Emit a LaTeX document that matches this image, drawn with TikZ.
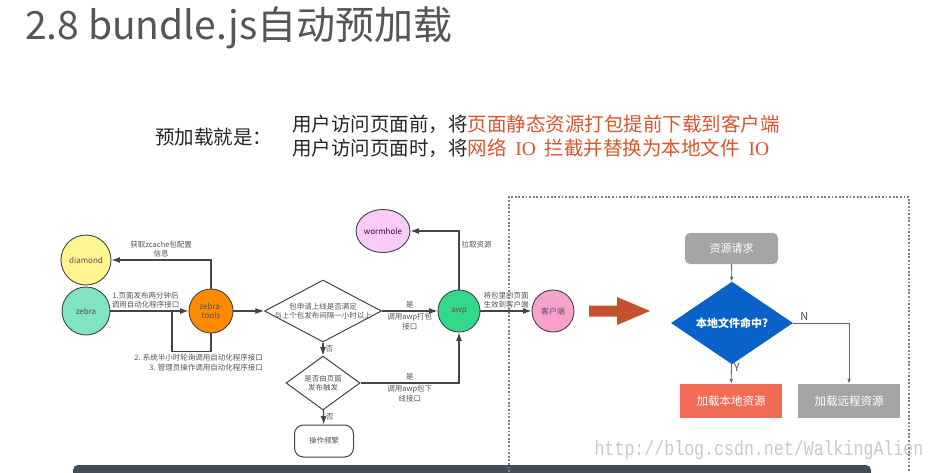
\documentclass[tikz,border=0pt]{standalone}
\usepackage{fontspec}
\setmainfont{Noto Sans CJK SC}
\newfontfamily\serifio{Liberation Serif}
\newfontfamily\wmfont{Liberation Mono}
\usepackage{graphicx}
\usepackage{tikz}
\usetikzlibrary{positioning,shapes.geometric,arrows.meta}
\definecolor{linegray}{HTML}{444444}
\definecolor{txtgray}{HTML}{555555}
\definecolor{dmdyellow}{HTML}{FFF68F}
\definecolor{zebramint}{HTML}{80E3C4}
\definecolor{toolsorange}{HTML}{FF8A00}
\definecolor{wormpink}{HTML}{F8CCF6}
\definecolor{awpgreen}{HTML}{34D88C}
\definecolor{clipink}{HTML}{F7A2CD}
\definecolor{bigred}{HTML}{C4512D}
\definecolor{hitblue}{HTML}{0A62C9}
\definecolor{localred}{HTML}{F26B56}
\definecolor{boxgray}{HTML}{A5A5A5}
\definecolor{hiorange}{HTML}{D9552D}
\definecolor{bardark}{HTML}{454C59}
\definecolor{wmgray}{HTML}{CACACA}
\tikzset{
  ball/.style={draw=linegray, circle, line width=0.9pt, inner sep=0pt, align=center, text=txtgray, font=\fontsize{8}{9}\selectfont},
  dia/.style={draw=linegray, diamond, line width=1pt, inner sep=0pt, align=center, text=txtgray, font=\fontsize{7.5}{9.5}\selectfont},
  lbl/.style={align=center, text=txtgray, font=\fontsize{7.5}{9.5}\selectfont, inner sep=2pt},
  conn/.style={draw=linegray, line width=1.1pt, -{Latex[length=8.5pt,width=6pt]}},
  rconn/.style={draw=black!60, line width=0.8pt, -{Latex[length=5pt,width=3.5pt]}},
  yn/.style={text=black!70, font=\fontsize{11}{13}\selectfont, inner sep=2pt},
  fbox/.style={minimum width=102pt, minimum height=34pt, inner sep=0pt, text=white, font=\fontsize{11.5}{13}\selectfont},
  dotline/.style={draw=black!50, line width=1.8pt, dash pattern=on 1.8pt off 1.8pt}
}
\begin{document}
\begin{tikzpicture}[x=1pt, y=-1pt]
  \useasboundingbox[fill=white] (0,0) rectangle (935,472);

  % heading
  \node[anchor=west, inner sep=0pt, text=txtgray, font=\fontsize{39}{44}\selectfont] (title) at (25,28) {2.8 bundle.js自动预加载};
  \node[anchor=west, inner sep=0pt, text=black!85, font=\fontsize{19.5}{24}\selectfont] (lead) at (155,137) {预加载就是：};
  \node[anchor=west, inner sep=0pt, align=left, text=black!85, font=\fontsize{19.5}{24}\selectfont] (defs) at (292,136)
    {用户访问页面前，将\textcolor{hiorange}{页面静态资源打包提前下载到客户端}\\
     用户访问页面时，将\textcolor{hiorange}{网络\hspace{.45em}{\serifio IO}\hspace{.45em}拦截并替换为本地文件\hspace{.45em}{\serifio IO}}};

  % release flow
  \node[ball, fill=dmdyellow, minimum size=50pt] (dmd) at (86,260) {diamond};
  \node[ball, fill=zebramint, minimum size=48pt] (zebra) at (86,311) {zebra};
  \node[ball, fill=toolsorange, minimum size=44pt] (tools) at (211,311) {zebra-\\tools};
  \node[dia, aspect=2, inner sep=-5pt, minimum width=117pt, minimum height=62pt] (q1) at (323,311) {包申请上线是否满足\\与上个包发布间隔一小时以上};
  \node[ball, fill=awpgreen, minimum size=42pt] (awp) at (459,311) {awp};
  \node[ball, ellipse, fill=wormpink, minimum width=46pt, minimum height=43pt, text=violet!55!black] (worm) at (383,231) {wormhole};
  \node[ball, fill=clipink, minimum size=42pt] (cli) at (553,311) {客户端};
  \node[dia, minimum width=74pt, minimum height=50pt] (q2) at (323,383) {是否由页面\\发布触发};
  \node[lbl, draw=linegray, line width=1pt, rounded corners=9pt, minimum width=59pt, minimum height=32pt] (busy) at (324,441) {操作频繁};
  \coordinate (loopin) at (172,311);

  \draw[conn] (tools.north) |- node[lbl, pos=0.75, above] {获取zcache包配置\\信息} (dmd.east);
  \draw[conn] (zebra) -- node[lbl, pos=0.45, above] {1.页面发布两分钟后\\调用自动化程序接口} (tools);
  \draw[conn, -] (tools.south) -- ++(0,18) -| (loopin);
  \node[lbl, anchor=north east, align=right] (polls) at (265,352) {2. 系统半小时轮询调用自动化程序接口\\3. 管理员操作调用自动化程序接口};
  \draw[conn] (tools) -- (q1);
  \draw[conn] (q1) -- node[lbl, above] {是} node[lbl, below] {调用awp打包\\接口} (awp);
  \draw[conn] (awp.north) |- node[lbl, pos=0.38, right] {拉取资源} (worm.east);
  \draw[conn] (awp) -- node[lbl, above] {将包里的页面\\生效到客户端} (cli);
  \draw[conn] (q1) -- node[lbl, right] {否} (q2);
  \draw[conn] (q2) -| node[lbl, pos=0.25, above] {是} node[lbl, pos=0.25, below] {调用awp包下\\线接口} (awp);
  \draw[conn] (q2) -- node[lbl, right] {否} (busy);

  % big arrow
  \fill[bigred] (589,305.5) -- (617,305.5) -- (617,297) -- (650,311) -- (617,325) -- (617,316.5) -- (589,316.5) -- cycle;

  % client side
  \node[fill=boxgray, rounded corners=5pt, minimum width=93pt, minimum height=31pt, inner sep=0pt, text=white, font=\fontsize{11}{13}\selectfont] (req) at (731.5,248.5) {资源请求};
  \node[diamond, fill=hitblue, minimum width=122pt, minimum height=52pt, inner sep=0pt, text=white, font=\bfseries\fontsize{11}{13}\selectfont] (hit) at (732,323) {本地文件命中?};
  \node[fbox, fill=localred] (loc) at (731,401) {加载本地资源};
  \node[fbox, fill=boxgray] (rem) at (849,401) {加载远程资源};

  \draw[rconn] (req) -- (hit);
  \draw[rconn] (hit) -- node[yn, pos=0.15, right] {Y} (loc);
  \draw[rconn] (hit.east) -| node[yn, pos=0.1, above] {N} (rem);

  % footer
  \node[text=wmgray, inner sep=0pt, font=\wmfont\fontsize{16.6}{18}\selectfont] (wm) at (759,450) {\scalebox{1}[1.25]{http://blog.csdn.net/WalkingAlien}};
  \fill[bardark, rounded corners=5pt] (73,480) rectangle (871,465);
  \draw[dotline] (509,472) -- (509,197) -- (909,197) -- (909,472);
\end{tikzpicture}
\end{document}
